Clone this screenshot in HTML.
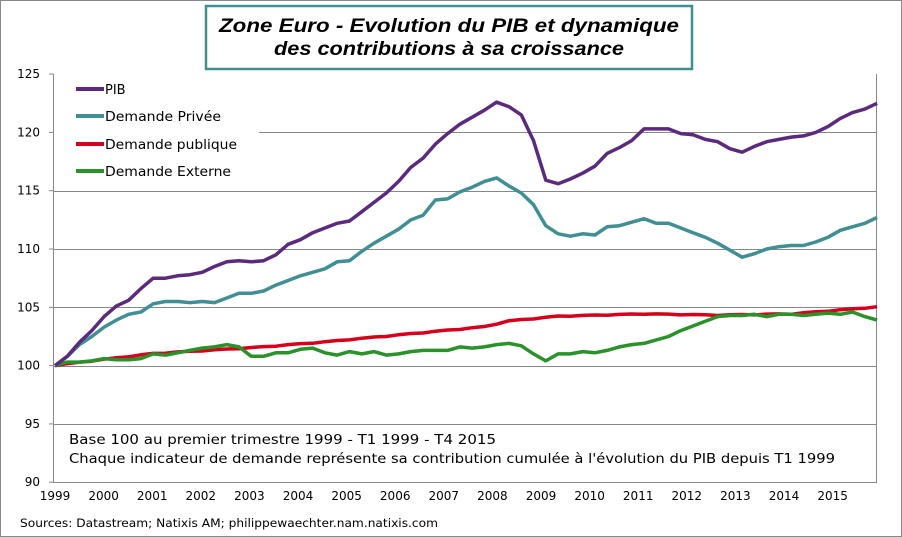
<!DOCTYPE html>
<html><head><meta charset="utf-8"><style>
body{margin:0;background:#fff;}
svg{display:block;font-family:"DejaVu Sans","Liberation Sans",sans-serif;}
</style></head><body>
<svg id="s" width="902" height="537" xmlns="http://www.w3.org/2000/svg">
<rect x="0.5" y="0.5" width="901" height="536" fill="#fff" stroke="#888"/>
<rect x="206" y="6" width="486" height="63" fill="#fff" stroke="#3f8f8f" stroke-width="2.5"/>
<text x="449" y="32" text-anchor="middle" font-family="Liberation Sans, sans-serif" font-weight="bold" font-style="italic" font-size="19" textLength="460" lengthAdjust="spacingAndGlyphs">Zone Euro  - Evolution du PIB et dynamique</text>
<text x="449" y="55" text-anchor="middle" font-family="Liberation Sans, sans-serif" font-weight="bold" font-style="italic" font-size="19" textLength="350" lengthAdjust="spacingAndGlyphs">des contributions à sa croissance</text>
<g id="grid" stroke="#888" stroke-width="1"></g>
<line x1="53.5" y1="74" x2="53.5" y2="482" stroke="#888"/>
<line x1="876.5" y1="74" x2="876.5" y2="482" stroke="#888"/>
<line x1="53" y1="482.5" x2="877" y2="482.5" stroke="#888"/>
<g id="lab" font-size="12" fill="#000"></g>
<g id="lines" fill="none" stroke-width="3.5" stroke-linejoin="round"></g>
<g font-size="13">
<line x1="76" y1="89" x2="104" y2="89" stroke="#5b2a7e" stroke-width="4"/><text x="105" y="94">PIB</text>
<line x1="76" y1="116" x2="104" y2="116" stroke="#3f8f94" stroke-width="4"/><text x="105" y="121" textLength="116" lengthAdjust="spacingAndGlyphs">Demande Privée</text>
<line x1="76" y1="144" x2="104" y2="144" stroke="#d6001c" stroke-width="4"/><text x="105" y="149" textLength="132" lengthAdjust="spacingAndGlyphs">Demande publique</text>
<line x1="76" y1="171" x2="104" y2="171" stroke="#2a922a" stroke-width="4"/><text x="105" y="176" textLength="126" lengthAdjust="spacingAndGlyphs">Demande Externe</text>
</g>
<text x="69" y="444" font-size="13.5" textLength="427" lengthAdjust="spacingAndGlyphs">Base 100 au premier trimestre 1999 - T1 1999 - T4 2015</text>
<text x="69" y="463" font-size="13.5" textLength="766" lengthAdjust="spacingAndGlyphs">Chaque indicateur de demande représente sa contribution cumulée à l'évolution du PIB depuis T1 1999</text>
<text x="20" y="527" font-size="11.5" textLength="418" lengthAdjust="spacingAndGlyphs">Sources: Datastream; Natixis AM; philippewaechter.nam.natixis.com</text>
</svg>
<script>
var NS="http://www.w3.org/2000/svg";
function Y(v){return 365.6-(v-100)*11.66;}
var g=document.getElementById('grid'),lab=document.getElementById('lab');
for(var v=90;v<=125;v+=5){
 if(v<125&&v>90){var l=document.createElementNS(NS,'line');l.setAttribute('x1',v==120?259:53);l.setAttribute('x2',876);l.setAttribute('y1',Math.round(Y(v))+0.5);l.setAttribute('y2',Math.round(Y(v))+0.5);g.appendChild(l);}
 var t=document.createElementNS(NS,'text');t.setAttribute('x',40);t.setAttribute('y',Y(v)+4);t.setAttribute('text-anchor','end');t.textContent=v;lab.appendChild(t);
 var k=document.createElementNS(NS,'line');k.setAttribute('x1',49);k.setAttribute('x2',54);k.setAttribute('y1',Y(v));k.setAttribute('y2',Y(v));k.setAttribute('stroke','#888');g.appendChild(k);
}
for(var yr=1999;yr<=2015;yr++){var x=55+(yr-1999)*48.6;var t=document.createElementNS(NS,'text');t.setAttribute('x',x);t.setAttribute('y',500);t.setAttribute('text-anchor','middle');t.textContent=yr;lab.appendChild(t);}
var pib=[100,100.8,102,103,104.2,105.1,105.6,106.6,107.5,107.5,107.7,107.8,108.0,108.5,108.9,109.0,108.9,109.0,109.5,110.4,110.8,111.4,111.8,112.2,112.4,113.2,114.0,114.8,115.8,117.0,117.8,119.0,119.9,120.7,121.3,121.9,122.6,122.2,121.5,119.3,115.9,115.6,116.0,116.5,117.1,118.2,118.7,119.3,120.3,120.3,120.3,119.9,119.8,119.4,119.2,118.6,118.3,118.8,119.2,119.4,119.6,119.7,120.0,120.5,121.2,121.7,122.0,122.5];
var pri=[100,100.8,101.8,102.5,103.3,103.9,104.4,104.6,105.3,105.5,105.5,105.4,105.5,105.4,105.8,106.2,106.2,106.4,106.9,107.3,107.7,108.0,108.3,108.9,109.0,109.8,110.5,111.1,111.7,112.5,112.9,114.2,114.3,114.9,115.3,115.8,116.1,115.4,114.8,113.8,112.0,111.3,111.1,111.3,111.2,111.9,112.0,112.3,112.6,112.2,112.2,111.8,111.4,111.0,110.5,109.9,109.3,109.6,110.0,110.2,110.3,110.3,110.6,111.0,111.6,111.9,112.2,112.7];
var ext=[100,100.3,100.3,100.4,100.6,100.5,100.5,100.6,101.0,100.9,101.1,101.3,101.5,101.6,101.8,101.6,100.8,100.8,101.1,101.1,101.4,101.5,101.1,100.9,101.2,101.0,101.2,100.9,101.0,101.2,101.3,101.3,101.3,101.6,101.5,101.6,101.8,101.9,101.7,101.0,100.4,101.0,101.0,101.2,101.1,101.3,101.6,101.8,101.9,102.2,102.5,103.0,103.4,103.8,104.2,104.3,104.3,104.4,104.2,104.4,104.4,104.3,104.4,104.5,104.4,104.6,104.2,103.9];
var pa=[[0,100],[8,101.0],[16,101.5],[22,102.0],[30,102.8],[35,103.3],[37,103.8],[41,104.2],[48,104.4],[54,104.3],[60,104.4],[67,105.0]];
var pub=[];for(var i=0;i<68;i++){for(var j=0;j<pa.length-1;j++){if(i>=pa[j][0]&&i<=pa[j+1][0]){var f=(i-pa[j][0])/(pa[j+1][0]-pa[j][0]);pub.push(pa[j][1]+f*(pa[j+1][1]-pa[j][1])+((i%3)?0.05:0));break;}}}
function draw(d,c){var p=d.map(function(v,i){return (55+i*12.27).toFixed(1)+','+Y(v).toFixed(1)}).join(' ');var e=document.createElementNS(NS,'polyline');e.setAttribute('points',p);e.setAttribute('stroke',c);document.getElementById('lines').appendChild(e);}
draw(pub,'#d6001c');draw(ext,'#2a922a');draw(pri,'#3f8f94');draw(pib,'#5b2a7e');
</script>
</body></html>
